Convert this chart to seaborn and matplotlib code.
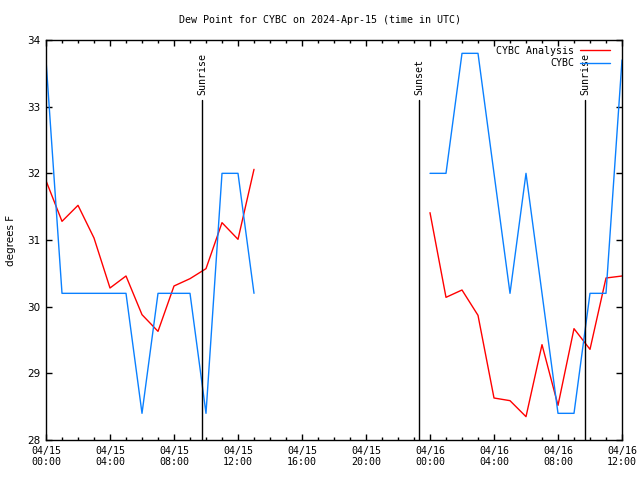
import numpy as np
import pandas as pd
import matplotlib
matplotlib.use("Agg")
import matplotlib.pyplot as plt
import seaborn as sns
from matplotlib.ticker import MultipleLocator

sns.set_style("ticks")
plt.rcParams['font.family'] = ['DejaVu Sans Mono', 'DejaVu Sans']
for k in ["text.color", "axes.labelcolor", "xtick.color", "ytick.color", "axes.edgecolor"]:
    plt.rcParams[k] = "black"

# Hours since 2024-04-15 00:00 UTC
obs_hours_a = [0, 1, 2, 3, 4, 5, 6, 7, 8, 9, 10, 11, 12, 13]
obs_vals_a = [33.7, 30.2, 30.2, 30.2, 30.2, 30.2, 28.4, 30.2, 30.2, 30.2, 28.4, 32.0, 32.0, 30.2]
obs_hours_b = [24, 25, 26, 27, 28, 29, 30, 31, 32, 33, 34, 35, 36]
obs_vals_b = [32.0, 32.0, 33.8, 33.8, 32.0, 30.2, 32.0, 30.2, 28.4, 28.4, 30.2, 30.2, 33.7]

ana_hours_a = [0, 1, 2, 3, 4, 5, 6, 7, 8, 9, 10, 11, 12, 13]
ana_vals_a = [31.89, 31.28, 31.52, 31.03, 30.28, 30.46, 29.88, 29.63, 30.31, 30.42, 30.57, 31.26, 31.01, 32.06]
ana_hours_b = [24, 25, 26, 27, 28, 29, 30, 31, 32, 33, 34, 35, 36]
ana_vals_b = [31.41, 30.14, 30.25, 29.87, 28.63, 28.59, 28.35, 29.43, 28.52, 29.67, 29.36, 30.43, 30.46]

events = ["Sunrise", "Sunset", "Sunrise"]
event_hours = [9.77, 23.33, 33.69]

xtick_hours = [0, 4, 8, 12, 16, 20, 24, 28, 32, 36]
xtick_labels = ["04/15\n00:00", "04/15\n04:00", "04/15\n08:00", "04/15\n12:00", "04/15\n16:00",
                "04/15\n20:00", "04/16\n00:00", "04/16\n04:00", "04/16\n08:00", "04/16\n12:00"]

title = "Dew Point for CYBC on 2024-Apr-15 (time in UTC)"

RED = "#ff0000"
BLUE = "#0a80ff"

fig = plt.figure(figsize=(6.4, 4.8), dpi=100)
ax = fig.add_axes([46/640, 40/480, 576/640, 400/480])

def seg(h, v, seg_id):
    return pd.DataFrame({"hour": h, "val": v, "seg": seg_id})

ana = pd.concat([seg(ana_hours_a, ana_vals_a, 0), seg(ana_hours_b, ana_vals_b, 1)])
obs = pd.concat([seg(obs_hours_a, obs_vals_a, 0), seg(obs_hours_b, obs_vals_b, 1)])

for s, d in ana.groupby("seg"):
    sns.lineplot(data=d, x="hour", y="val", ax=ax, color=RED, lw=1, sort=False,
                 label="CYBC Analysis" if s == 0 else None)
for s, d in obs.groupby("seg"):
    sns.lineplot(data=d, x="hour", y="val", ax=ax, color=BLUE, lw=1, sort=False,
                 label="CYBC" if s == 0 else None)

for name, h in zip(events, event_hours):
    ax.plot([h, h], [28, 33.1], color="black", lw=1)
    ax.text(h, 33.17, name, rotation=90, ha="center", va="bottom", fontsize=7.2)

ax.set_xlim(0, 36)
ax.set_ylim(28, 34)
ax.set_xticks(xtick_hours)
ax.set_xticklabels(xtick_labels, fontsize=7.2)
ax.xaxis.set_minor_locator(MultipleLocator(1))
ax.set_yticks(range(28, 35))
ax.set_yticklabels([str(v) for v in range(28, 35)], fontsize=7.5, family="DejaVu Sans")
ax.tick_params(axis="both", which="major", direction="in", length=4, width=1, top=True, right=True, pad=4)
ax.tick_params(axis="x", which="minor", direction="in", length=2.5, width=1, top=True)
ax.set_xlabel("")
ax.set_ylabel("degrees F", fontsize=7.5, family="DejaVu Sans", labelpad=8)
for sp in ax.spines.values():
    sp.set_linewidth(1)
    sp.set_visible(True)

fig.suptitle(title, fontsize=7.2, y=1 - 20/480, va="center")

leg = ax.legend(loc="upper right", bbox_to_anchor=(0.981, 0.9875), frameon=False,
                fontsize=7.2, markerfirst=False,
                handlelength=3.0, handletextpad=0.6, labelspacing=0.25,
                borderaxespad=0.0, borderpad=0.1)

fig.savefig("out.png", dpi=100)
